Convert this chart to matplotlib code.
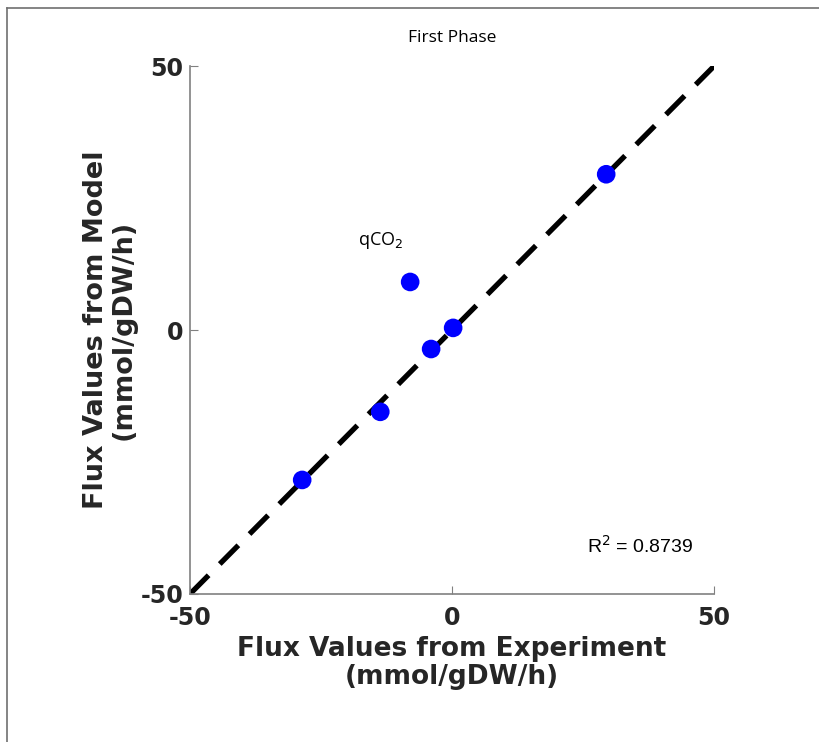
import matplotlib
matplotlib.use("Agg")
import matplotlib.pyplot as plt
from matplotlib.lines import Line2D

exp_vals = [29.4, -8.0, 0.2, -4.0, -13.7, -28.6]
model_vals = [29.5, 9.1, 0.4, -3.6, -15.5, -28.4]
ticks = [-50, 0, 50]
r2_text = "R$^2$ = 0.8739"

fig = plt.figure(figsize=(8.19, 7.42), dpi=100)
ax = fig.add_axes([0.232, 0.1995, 0.640, 0.7115])

ax.plot([-50, 50], [-50, 50], color="black", linestyle=(0, (5, 3)), linewidth=3.8, zorder=2)
ax.scatter(exp_vals, model_vals, s=180, color="#0000ff", zorder=3, edgecolors="none")

ax.set_xlim(-50, 50)
ax.set_ylim(-50, 50)
ax.set_xticks(ticks)
ax.set_yticks(ticks)
ax.set_xticklabels([str(t) for t in ticks], fontsize=17, fontweight="bold", color="#262626")
ax.set_yticklabels([str(t) for t in ticks], fontsize=17, fontweight="bold", color="#262626")
ax.tick_params(axis="both", direction="in", length=6, color="#808080")
ax.tick_params(axis="x", pad=9)
ax.tick_params(axis="y", pad=5)
for s in ["top", "right"]:
    ax.spines[s].set_visible(False)
for s in ["left", "bottom"]:
    ax.spines[s].set_color("#808080")
    ax.spines[s].set_linewidth(1.2)

ax.set_xlabel("Flux Values from Experiment\n(mmol/gDW/h)", fontsize=19, fontweight="bold",
              color="#262626", labelpad=4, linespacing=1.08)
ax.set_ylabel("Flux Values from Model\n(mmol/gDW/h)", fontsize=19.5, fontweight="bold",
              color="#262626", labelpad=3, linespacing=1.08)
ax.set_title("First Phase", fontsize=12.5, family="Open Sans", pad=17)

ax.text(-13.7, 17.0, "qCO$_2$", fontsize=13, family="Open Sans", ha="center", va="center")
ax.text(35.9, -40.8, r2_text, fontsize=14, family="Liberation Sans", ha="center", va="center")

fig.add_artist(Line2D([7/819, 7/819], [0, 1 - 8/742], color="#707070", linewidth=1.2))
fig.add_artist(Line2D([7/819, 1], [1 - 8/742, 1 - 8/742], color="#707070", linewidth=1.2))

fig.savefig("out.png", dpi=100, facecolor="white")
